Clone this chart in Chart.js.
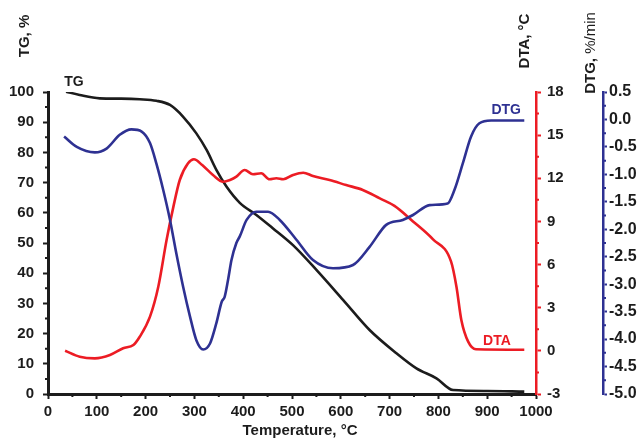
<!DOCTYPE html>
<html>
<head>
<meta charset="utf-8">
<script src="https://cdn.jsdelivr.net/npm/chart.js@4"></script>
<style>
  html, body { margin: 0; padding: 0; background: #fff; }
  #wrap { width: 644px; height: 439px; }
</style>
</head>
<body>
<div id="wrap"><canvas id="chart" width="644" height="439"></canvas></div>
<script>
// TG curve (mass, %)
const tgTemp = [37, 65, 106, 150, 188, 222, 250, 277, 304, 325, 345, 366, 393, 427, 460, 502, 550, 605, 659, 714, 755, 796, 830, 900, 976];
const tgValues = [100.1, 99.0, 97.9, 97.8, 97.6, 97.1, 95.7, 91.8, 86.3, 80.8, 74.2, 68.6, 63.3, 59.3, 55.0, 49.3, 41.1, 31.1, 21.2, 13.5, 8.5, 5.2, 1.3, 1.0, 0.8];

// DTA curve (°C)
const dtaTemp = [35, 65, 96, 127, 154, 175, 188, 209, 226, 243, 257, 270, 287, 299, 316, 338, 359, 373, 386, 403, 420, 437, 454, 468, 482, 502, 523, 543, 577, 611, 645, 680, 710, 748, 789, 826, 837, 847, 861, 877, 976];
const dtaValues = [0.01, -0.41, -0.52, -0.29, 0.18, 0.41, 0.98, 2.38, 4.46, 7.71, 10.03, 11.88, 13.04, 13.32, 12.92, 12.23, 11.76, 11.88, 12.11, 12.58, 12.28, 12.35, 11.93, 12.0, 11.93, 12.23, 12.39, 12.16, 11.88, 11.53, 11.19, 10.6, 10.08, 9.0, 7.75, 6.2, 4.46, 2.15, 0.64, 0.11, 0.08];

// DTG curve (%/min)
const dtgTemp = [33, 59, 96, 120, 147, 171, 192, 209, 222, 236, 250, 263, 277, 291, 304, 318, 332, 345, 356, 362, 369, 376, 386, 393, 407, 427, 451, 475, 509, 543, 584, 625, 659, 693, 727, 748, 782, 819, 833, 850, 867, 884, 908, 976];
const dtgValues = [-0.31, -0.50, -0.60, -0.53, -0.28, -0.18, -0.22, -0.43, -0.80, -1.28, -1.83, -2.44, -3.05, -3.59, -4.02, -4.19, -4.08, -3.71, -3.32, -3.23, -2.92, -2.56, -2.25, -2.13, -1.83, -1.68, -1.68, -1.83, -2.19, -2.56, -2.71, -2.65, -2.32, -1.92, -1.83, -1.74, -1.56, -1.53, -1.28, -0.80, -0.31, -0.07, -0.02, -0.02];

const BLACK = '#1c1c1c';
const RED = '#ec1c24';
const BLUE = '#2e3192';

function toPoints(xs, ys) {
    return xs.map((x, i) => ({ x: x, y: ys[i] }));
}

Chart.defaults.font.family = "'Liberation Sans', Arial, sans-serif";
Chart.defaults.font.size = 15;
Chart.defaults.font.weight = 'bold';
Chart.defaults.color = BLACK;

// short ticks between the labelled ones
const minorSteps = { x: 50, y: 5, dta: 1.5, dtg: 0.25 };

const minorTickPlugin = {
    id: 'minorTicks',
    afterDraw(chart) {
        const ctx = chart.ctx;
        ctx.save();
        Object.keys(minorSteps).forEach(id => {
            const s = chart.scales[id];
            const step = minorSteps[id];
            ctx.strokeStyle = id === 'dta' ? RED : (id === 'dtg' ? BLUE : BLACK);
            ctx.lineWidth = 2;
            ctx.beginPath();
            for (let v = s.min + step; v < s.max; v += 2 * step) {
                const p = s.getPixelForValue(v);
                if (id === 'x') {
                    ctx.moveTo(p, s.top); ctx.lineTo(p, s.top + 3);
                } else if (id === 'y') {
                    ctx.moveTo(s.right, p); ctx.lineTo(s.right - 3, p);
                } else {
                    ctx.moveTo(s.left, p); ctx.lineTo(s.left + 3, p);
                }
            }
            ctx.stroke();
        });
        ctx.restore();
    }
};

function vText(ctx, parts, cx, cy) {
    // rotated text, reading bottom to top, centred on (cx, cy)
    let total = 0;
    parts.forEach(p => { ctx.font = p.font; p.w = ctx.measureText(p.text).width; total += p.w; });
    ctx.save();
    ctx.translate(cx, cy);
    ctx.rotate(-Math.PI / 2);
    ctx.textBaseline = 'middle';
    ctx.textAlign = 'left';
    let x = -total / 2;
    parts.forEach(p => {
        ctx.font = p.font;
        ctx.fillStyle = p.color || BLACK;
        ctx.fillText(p.text, x, 0);
        x += p.w;
    });
    ctx.restore();
}

const labelsPlugin = {
    id: 'labels',
    afterDraw(chart) {
        const ctx = chart.ctx;
        const bold = "bold 15px 'Liberation Sans', Arial, sans-serif";
        const normal = "15px 'Liberation Sans', Arial, sans-serif";
        ctx.save();
        vText(ctx, [{ text: 'TG, %', font: bold }], 25, 36);
        vText(ctx, [{ text: 'DTA, °C', font: bold }], 525, 41);
        vText(ctx, [{ text: 'DTG, ', font: bold }, { text: '%/min', font: normal }], 591, 53);

        ctx.font = bold;
        ctx.fillStyle = BLACK;
        ctx.textAlign = 'center';
        ctx.textBaseline = 'middle';
        ctx.fillText('Temperature, °C', 300, 431);

        // curve names, anchored through the scales
        const sx = chart.scales.x;
        ctx.font = "bold 14px 'Liberation Sans', Arial, sans-serif";
        ctx.fillStyle = BLACK;
        ctx.fillText('TG', sx.getPixelForValue(53), chart.scales.y.getPixelForValue(103.4));
        ctx.fillStyle = BLUE;
        ctx.fillText('DTG', sx.getPixelForValue(939), chart.scales.dtg.getPixelForValue(0.17));
        ctx.fillStyle = RED;
        ctx.fillText('DTA', sx.getPixelForValue(920), chart.scales.dta.getPixelForValue(0.69));
        ctx.restore();
    }
};

new Chart(document.getElementById('chart'), {
    type: 'line',
    data: {
        datasets: [
            {
                label: 'DTG',
                data: toPoints(dtgTemp, dtgValues),
                yAxisID: 'dtg',
                borderColor: BLUE,
                borderWidth: 2.6,
                pointRadius: 0,
                cubicInterpolationMode: 'monotone'
            },
            {
                label: 'DTA',
                data: toPoints(dtaTemp, dtaValues),
                yAxisID: 'dta',
                borderColor: RED,
                borderWidth: 2.6,
                pointRadius: 0,
                cubicInterpolationMode: 'monotone'
            },
            {
                label: 'TG',
                data: toPoints(tgTemp, tgValues),
                yAxisID: 'y',
                borderColor: BLACK,
                borderWidth: 2.6,
                pointRadius: 0,
                cubicInterpolationMode: 'monotone'
            }
        ]
    },
    options: {
        responsive: false,
        animation: false,
        layout: { padding: { top: 92, left: 0, right: 0, bottom: 0 } },
        plugins: {
            legend: { display: false },
            tooltip: { enabled: false }
        },
        scales: {
            x: {
                type: 'linear',
                position: 'bottom',
                min: 0,
                max: 1000,
                ticks: { stepSize: 100, padding: 4, maxRotation: 0, callback: v => String(v) },
                grid: { drawOnChartArea: false, tickLength: 5, tickColor: BLACK, tickWidth: 2 },
                border: { color: BLACK, width: 3 },
                afterFit: s => { s.height = 45; }
            },
            y: {
                position: 'left',
                min: 0,
                max: 100,
                ticks: { stepSize: 10, padding: 9, callback: v => String(v) },
                grid: { drawOnChartArea: false, tickLength: 5, tickColor: BLACK, tickWidth: 2 },
                border: { color: BLACK, width: 3 },
                afterFit: s => { s.width = 48; }
            },
            dta: {
                position: 'right',
                weight: 1,
                min: -3,
                max: 18,
                ticks: { stepSize: 3, padding: 6, color: BLACK },
                grid: { drawOnChartArea: false, tickLength: 5, tickColor: RED, tickWidth: 2 },
                border: { color: RED, width: 2.5 },
                afterFit: s => { s.width = 67; }
            },
            dtg: {
                position: 'right',
                weight: 2,
                min: -5,
                max: 0.5,
                ticks: {
                    stepSize: 0.5,
                    padding: 2,
                    color: BLACK,
                    font: { size: 16 },
                    callback: v => (Math.abs(v) < 1e-9 ? 0 : v).toFixed(1)
                },
                grid: { drawOnChartArea: false, tickLength: 4, tickColor: BLUE, tickWidth: 2 },
                border: { color: BLUE, width: 2.5 },
                afterFit: s => { s.width = 41; }
            }
        }
    },
    plugins: [minorTickPlugin, labelsPlugin]
});
</script>
</body>
</html>
